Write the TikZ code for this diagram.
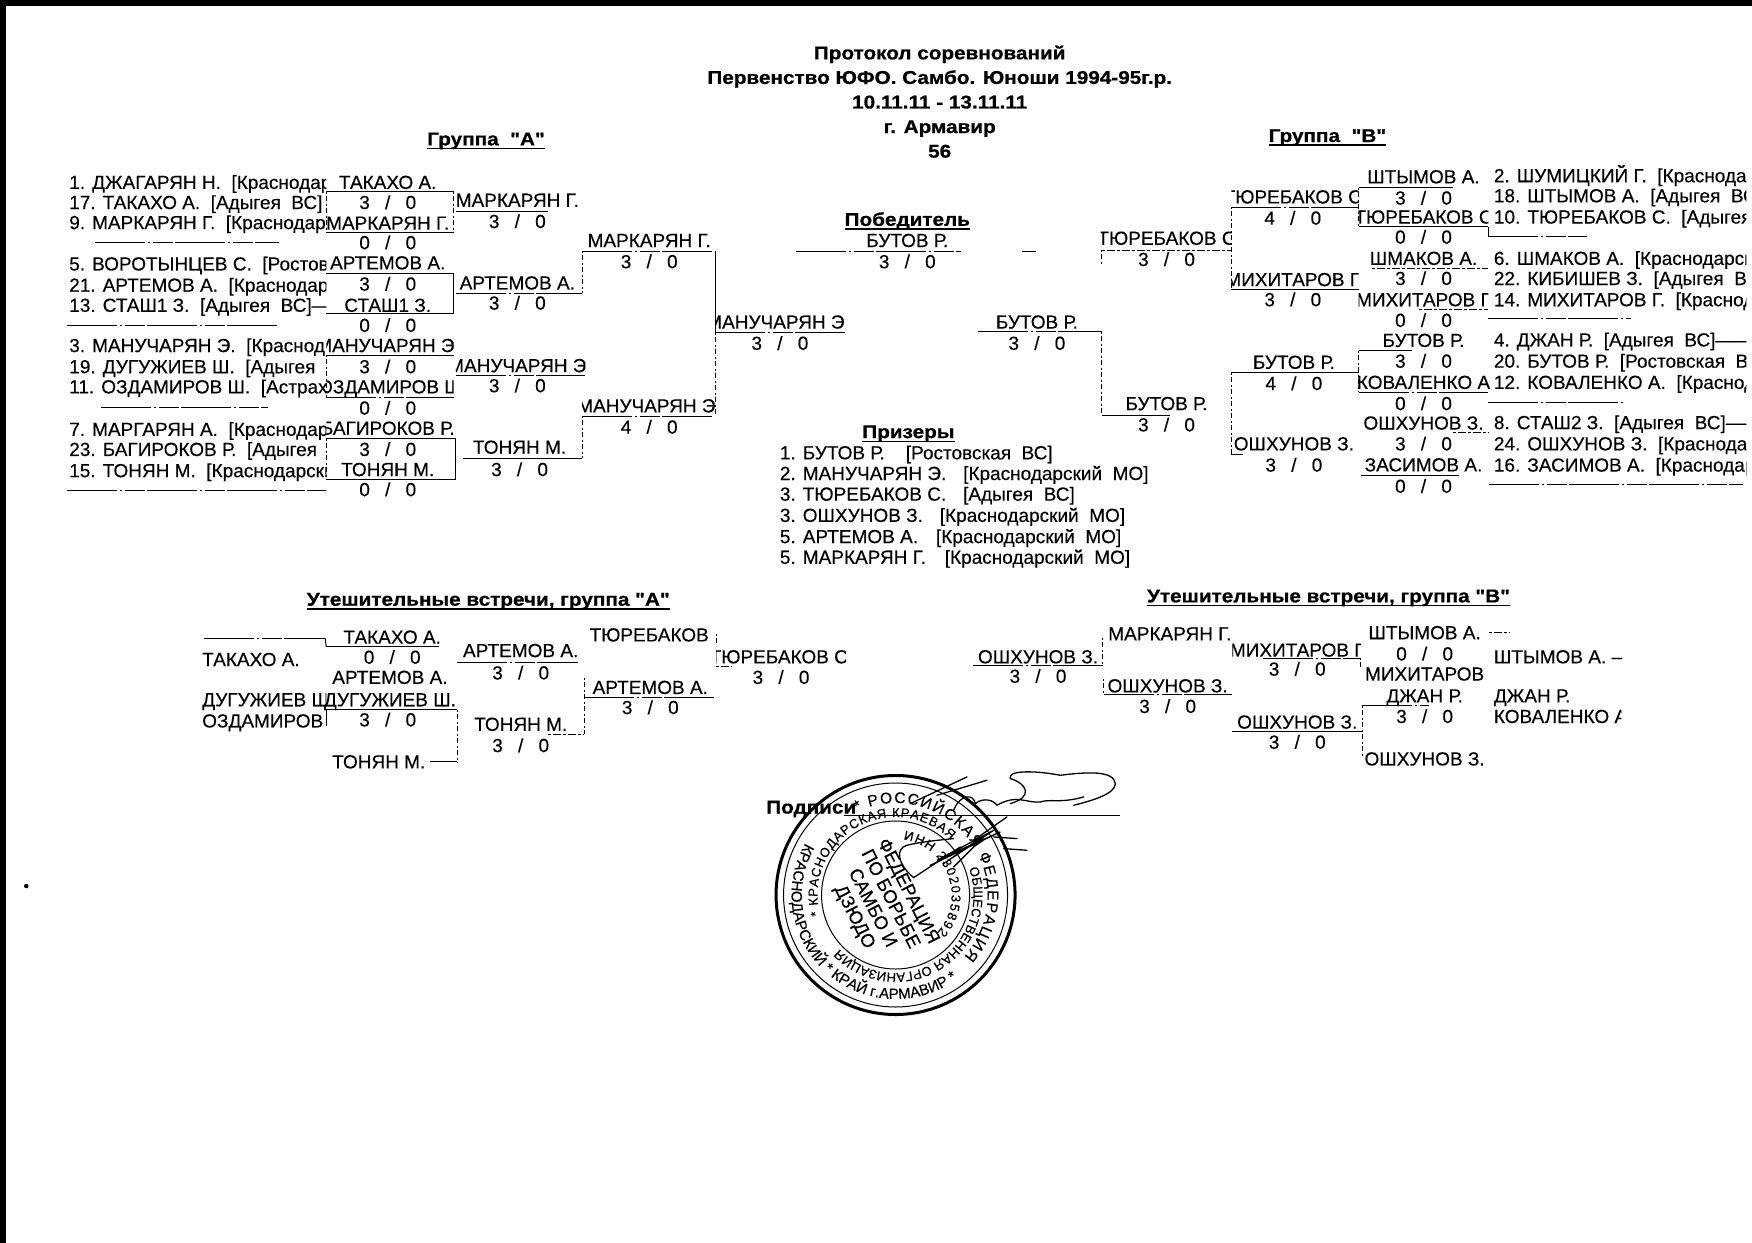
\documentclass[tikz,border=0pt]{standalone}
\usepackage{fontspec}
\usepackage{graphicx}
\setmainfont{Liberation Sans}[UprightFeatures={FakeBold=0.25},BoldFeatures={FakeBold=0.7}]
\newfontfamily\plainq{Liberation Sans}[BoldFeatures={FakeBold=0.7}]
\newcommand\Qt{{\plainq"}}
\usetikzlibrary{decorations.text}
\tikzset{
 nm/.style={inner sep=0pt,outer sep=0pt,text height=13.6pt,text depth=0pt,font=\fontsize{19}{19}\selectfont},
 ttl/.style={inner sep=0pt,outer sep=0pt,text height=13.6pt,text depth=0pt,font=\fontsize{18.5}{18.5}\selectfont\bfseries},
 rl/.style={line width=1pt},
 rb/.style={line width=1pt,dash pattern=on 50pt off 3pt on 2pt off 3pt on 20pt off 2pt},
 rd/.style={line width=1pt,dash pattern=on 3pt off 2pt on 8pt off 2pt},
 vs/.style={line width=1pt},
 vd/.style={line width=1pt,dash pattern=on 2pt off 2pt on 5pt off 3pt},
 ul/.style={line width=1.6pt},
 ringtxt/.style={decorate,decoration={text along path,text align=fit to path,text={#1}}},
 stt/.style={nm,rotate=-63,font=\fontsize{18.5}{18.5}\selectfont},
}
\newcommand\Nm[4]{\node[nm] (#1) at (#2,#3) {#4};}
\newcommand\Ln[4]{\node[nm,anchor=west] (#1) at (#2,#3) {#4};}
\newcommand\Cn[6]{\begin{scope}\clip (#5,#3-9) rectangle (#6,#3+9);\node[nm] (#1) at (#2,#3) {#4};\end{scope}}
\newcommand\Cl[5]{\begin{scope}\clip (#2,#3-10) rectangle (#5,#3+10);\node[nm,anchor=west] (#1) at (#2,#3) {#4};\end{scope}}
\newcommand\Sr[5]{\node[nm] (#1) at (#2,#3) {#4\hspace{.8em}/\hspace{.8em}#5};}
\newcommand\Ru[5][rl]{\coordinate (#2-l) at (#3,#5);\coordinate (#2-r) at (#4,#5);\draw[#1] (#2-l) -- (#2-r);}
\newcommand\Wd[1]{\scalebox{1.12}[1]{#1}}
\newcommand\Ti[3]{\node[ttl] (#1) at (#2) {\Wd{#3}};\draw[ul] ([yshift=-3.2pt]#1.base west) -- ([yshift=-3.2pt]#1.base east);}
\begin{document}
\begin{tikzpicture}[x=1.1173pt,y=-1.1173pt]
\useasboundingbox (0,0) rectangle (1568,1112);
\fill[white] (0,0) rectangle (1568,1112);
\fill[black] (0,0) rectangle (1568,5.4);
\fill[black] (0,0) rectangle (5,1112);
\fill[black] (23.5,793) circle[radius=2];
% header
\node[ttl] (t1) at (841,47) {\Wd{Протокол соревнований}};
\node[ttl] (t2) at (841,69) {\Wd{Первенство ЮФО. Самбо. Юноши 1994-95г.р.}};
\node[ttl] (t3) at (841,91) {\Wd{10.11.11 - 13.11.11}};
\node[ttl] (t4) at (841,113) {\Wd{г. Армавир}};
\node[ttl] (t5) at (841,135) {\Wd{56}};
\Ti{ga}{435,124}{Группа~~\Qt А\Qt}
\Ti{gb}{1188,121}{Группа~~\Qt В\Qt}
\Ti{win}{812,196}{Победитель}
\Ti{pri}{813,386}{Призеры}
\Ti{ca}{437,536}{Утешительные встречи, группа \Qt А\Qt}
\Ti{cb}{1189,533}{Утешительные встречи, группа \Qt В\Qt}
% left list
\Cl{l1}{62}{163}{1. ДЖАГАРЯН Н.~~[Краснодар}{292}
\Cl{l2}{62}{181}{17. ТАКАХО А.~~[Адыгея~~ВС]}{292}
\Cl{l3}{62}{199}{9. МАРКАРЯН Г.~~[Краснодар}{292}
\Cl{l4}{62}{236}{5. ВОРОТЫНЦЕВ С.~~[Ростов}{292}
\Cl{l5}{62}{255}{21. АРТЕМОВ А.~~[Краснодар}{292}
\Cl{l6}{62}{273}{13. СТАШ1 З.~~[Адыгея~~ВС]---}{292}
\Cl{l7}{62}{309}{3. МАНУЧАРЯН Э.~~[Краснод}{292}
\Cl{l8}{62}{328}{19. ДУГУЖИЕВ Ш.~~[Адыгея}{292}
\Cl{l9}{62}{346}{11. ОЗДАМИРОВ Ш.~~[Астрах}{292}
\Cl{l10}{62}{384}{7. МАРГАРЯН А.~~[Краснодар}{292}
\Cl{l11}{62}{402}{23. БАГИРОКОВ Р.~~[Адыгея}{292}
\Cl{l12}{62}{421}{15. ТОНЯН М.~~[Краснодарски}{292}
\Ru[rb]{sl1}{85}{250}{217}
\Ru[rb]{sl2}{60}{250}{291}
\Ru[rb]{sl3}{90}{240}{365}
\Ru[rb]{sl4}{60}{292}{439}
% col 1 A
\Nm{a1}{347}{163}{ТАКАХО А.}\Ru{a1}{292}{406}{171.6}\Sr{a1s}{347}{181}{3}{0}
\Nm{a2}{347}{199.4}{МАРКАРЯН Г.}\Ru{a2}{292}{406}{208}\Sr{a2s}{347}{217}{0}{0}
\Nm{a3}{347}{235}{АРТЕМОВ А.}\Ru{a3}{292}{406}{245}\Sr{a3s}{347}{254}{3}{0}
\Nm{a4}{347}{273}{СТАШ1 З.}\Ru{a4}{292}{406}{281}\Sr{a4s}{347}{291}{0}{0}
\Cn{a5}{345}{309}{МАНУЧАРЯН Э}{292}{406}\Ru{a5}{292}{406}{318}\Sr{a5s}{347}{328}{3}{0}
\Cn{a6}{349}{346}{ОЗДАМИРОВ Ш}{292}{406}\Ru[rb]{a6}{292}{406}{356}\Sr{a6s}{347}{365}{0}{0}
\Cn{a7}{347}{383}{БАГИРОКОВ Р.}{292}{408}\Ru{a7}{292}{408}{392.5}\Sr{a7s}{347}{402}{3}{0}
\Nm{a8}{347}{420}{ТОНЯН М.}\Ru{a8}{292}{408}{429}\Sr{a8s}{347}{438}{0}{0}
\draw[vd] (a1-l) -- (a2-l); \draw[vd] (a5-l) -- (a6-l); \draw[vd] (a7-l) -- (a8-l);
\draw[vd] (a1-r) -- (a2-r); \draw[vs] (a3-r) -- (a4-r); \draw[vs] (a7-r) -- (a8-r);
% col 2 A
\Nm{b1}{463}{179}{МАРКАРЯН Г.}\Ru{b1}{408}{490}{189.5}\Sr{b1s}{463}{198}{3}{0}
\Nm{b2}{463}{253}{АРТЕМОВ А.}\Ru[rb]{b2}{408}{521}{262.6}\Sr{b2s}{463}{271}{3}{0}
\Cn{b3}{463}{327}{МАНУЧАРЯН Э}{408}{524}\Ru[rb]{b3}{408}{524}{336}\Sr{b3s}{463}{345}{3}{0}
\Nm{b4}{465}{400}{ТОНЯН М.}\Ru{b4}{414}{521}{410}\Sr{b4s}{465}{420}{3}{0}
% col 3 A
\Nm{c1}{581}{215}{МАРКАРЯН Г.}\Ru[rb]{c1}{521}{640}{225}\Sr{c1s}{581}{234}{3}{0}
\Cn{c2}{578.5}{363}{МАНУЧАРЯН Э}{521}{640}\Ru[rb]{c2}{521}{640}{372.5}\Sr{c2s}{581}{382}{4}{0}
\draw[vd] (c1-l) -- (b2-r); \draw[vd] (c2-l) -- (b4-r);
\Cn{d1}{694}{288}{МАНУЧАРЯН Э}{640}{756}\Ru[rb]{d1}{640}{756}{298}\Sr{d1s}{698}{307}{3}{0}
\draw[vs] (c1-r) -- (d1-l); \draw[vd] (d1-l) -- (c2-r);
% winner
\Nm{w}{812}{215}{БУТОВ Р.}\Ru[rb]{w}{712}{860}{225}\Sr{ws}{812}{234}{3}{0}
\Ru{wx}{915}{927}{225}
% prize list
\Ln{p1}{698}{405}{1. БУТОВ Р.~~~~[Ростовская~~ВС]}
\Ln{p2}{698}{423.5}{2. МАНУЧАРЯН Э.~~~\hspace{1pt}[Краснодарский~~МО]}
\Ln{p3}{698}{442}{3. ТЮРЕБАКОВ С.~~~\hspace{1pt}[Адыгея~~ВС]}
\Ln{p4}{698}{461}{3. ОШХУНОВ З.~~~\hspace{1pt}[Краснодарский~~МО]}
\Ln{p5}{698}{480}{5. АРТЕМОВ А.~~~\hspace{2pt}[Краснодарский~~МО]}
\Ln{p6}{698}{498.5}{5. МАРКАРЯН Г.~~~\hspace{3pt}[Краснодарский~~МО]}
% right bracket
\Nm{e1}{928}{288}{БУТОВ Р.}\Ru[rb]{e1}{875}{986}{297}\Sr{e1s}{928}{307}{3}{0}
\Cn{f1}{1044}{213}{ТЮРЕБАКОВ С}{985}{1102}\Ru[rd]{f1}{986}{1102}{224}\Sr{f1s}{1044}{232}{3}{0}
\Nm{f2}{1044}{361}{БУТОВ Р.}\Ru{f2}{986}{1047}{372}\Sr{f2s}{1044}{380}{3}{0}
\draw[vd] (e1-r) -- (f2-l); \draw[vd] (f1-l) -- ++(0,12);
\Cn{g1}{1157}{176}{ТЮРЕБАКОВ С}{1102}{1216}\Ru[rb]{g1}{1102}{1216}{185.6}\Sr{g1s}{1157}{195}{4}{0}
\Cn{g2}{1157}{250}{МИХИТАРОВ Г}{1102}{1216}\Ru{g2}{1102}{1216}{259}\Sr{g2s}{1157}{268}{3}{0}
\Nm{g3}{1158}{324}{БУТОВ Р.}\Ru{g3}{1102}{1216}{333.4}\Sr{g3s}{1158}{343}{4}{0}
\Nm{g4}{1158}{397}{ОШХУНОВ З.}\Ru{g4}{1102}{1112}{407}\Sr{g4s}{1158}{416}{3}{0}
\draw[vd] (g1-l) -- (g2-l); \draw[vd] (g3-l) -- (g4-l);
\Nm{h1}{1274}{158}{ШТЫМОВ А.}\Ru{h1}{1216}{1300}{168}\Sr{h1s}{1274}{177}{3}{0}
\Cn{h2}{1274}{194}{ТЮРЕБАКОВ С}{1216}{1332}\Ru{h2}{1216}{1332}{203}\Sr{h2s}{1274}{212}{0}{0}
\Nm{h3}{1274}{231}{ШМАКОВ А.}\Ru[rd]{h3}{1228}{1332}{240}\Sr{h3s}{1274}{249}{3}{0}
\Cn{h4}{1274}{268}{МИХИТАРОВ Г}{1216}{1332}\Ru[rd]{h4}{1270}{1332}{277}\Sr{h4s}{1274}{286.5}{0}{0}
\Nm{h5}{1274}{304.4}{БУТОВ Р.}\Ru{h5}{1216}{1264}{314}\Sr{h5s}{1274}{323}{3}{0}
\Nm{h6}{1274}{342}{КОВАЛЕНКО А}\Ru[rb]{h6}{1216}{1332}{351}\Sr{h6s}{1274}{361}{0}{0}
\Nm{h7}{1274}{378.4}{ОШХУНОВ З.}\Ru[rd]{h7}{1300}{1332}{387.4}\Sr{h7s}{1274}{397}{3}{0}
\Nm{h8}{1274}{415.8}{ЗАСИМОВ А.}\Ru{h8}{1218}{1306}{425.6}\Sr{h8s}{1274}{435}{0}{0}
\draw[vd] (h1-l) -- (h2-l); \draw[vd] (h5-l) -- (h6-l); \draw[vs] (h2-r) -- ++(0,9);
% right list
\Cl{r1}{1337}{157}{2. ШУМИЦКИЙ Г.~~[Краснода}{1563}
\Cl{r2}{1337}{175}{18. ШТЫМОВ А.~~[Адыгея~~ВС}{1563}
\Cl{r3}{1337}{194}{10. ТЮРЕБАКОВ С.~~[Адыгея}{1563}
\Cl{r4}{1337}{231}{6. ШМАКОВ А.~~[Краснодарск}{1563}
\Cl{r5}{1337}{249}{22. КИБИШЕВ З.~~[Адыгея~~ВС}{1563}
\Cl{r6}{1337}{268}{14. МИХИТАРОВ Г.~~[Краснод}{1563}
\Cl{r7}{1337}{304}{4. ДЖАН Р.~~[Адыгея~~ВС]------}{1563}
\Cl{r8}{1337}{323}{20. БУТОВ Р.~~[Ростовская~~В}{1563}
\Cl{r9}{1337}{342}{12. КОВАЛЕНКО А.~~[Краснод}{1563}
\Cl{r10}{1337}{378}{8. СТАШ2 З.~~[Адыгея~~ВС]------}{1563}
\Cl{r11}{1337}{397}{24. ОШХУНОВ З.~~[Краснодар}{1563}
\Cl{r12}{1337}{416}{16. ЗАСИМОВ А.~~[Краснодар}{1563}
\Ru[rb]{sr1}{1332}{1420}{212}
\Ru[rb]{sr2}{1332}{1460}{285}
\Ru[rb]{sr3}{1332}{1455}{360}
\Ru[rb]{sr4}{1333}{1560}{434}
% consolation A
\Ru[rb]{ca0}{183}{291}{571}
\Nm{k1}{351}{570}{ТАКАХО А.}\Ru{k1}{292}{393}{579}\Sr{k1s}{351}{588}{0}{0}
\draw[vs] (ca0-r) -- (k1-l);
\Ln{k2}{181}{590}{ТАКАХО А.}
\Nm{k3}{349}{606}{АРТЕМОВ А.}
\Cl{k4}{181}{626}{ДУГУЖИЕВ Ш}{292}
\Nm{k5}{349}{626}{ДУГУЖИЕВ Ш.}\Ru{k5}{292}{409}{635}\Sr{k5s}{347}{644}{3}{0}
\Ln{k6}{181}{645}{ОЗДАМИРОВ}
\Nm{k7}{339}{681.6}{ТОНЯН М.}\Ru{k7}{385}{409}{681.6}
\draw[vd] (k5-r) -- (k7-r); \draw[vs] (k5-l) -- ++(0,15);
\Nm{q1}{466}{582}{АРТЕМОВ А.}\Ru[rb]{q1}{409}{517}{592.7}\Sr{q1s}{466}{602}{3}{0}
\Nm{q2}{466}{648}{ТОНЯН М.}\Ru[rd]{q2}{490}{523}{657}\Sr{q2s}{466}{667}{3}{0}
\Nm{s1}{581}{568}{ТЮРЕБАКОВ}
\Nm{s2}{582}{615}{АРТЕМОВ А.}\Ru[rb]{s2}{523}{641}{624}\Sr{s2s}{582}{633}{3}{0}
\draw[vd] (s2-l) ++(0,-17) -- (q2-r);
\Cn{s3}{697}{587.6}{ТЮРЕБАКОВ С}{641}{757}\Ru[rd]{s3}{641}{655}{596.6}\Sr{s3s}{699}{606}{3}{0}
\draw[vd] (s3-l) ++(0,-29) -- ++(0,8);
% consolation B
\Nm{u}{929}{587.6}{ОШХУНОВ З.}\Ru[rb]{u}{871}{987}{595.7}\Sr{us}{929}{605}{3}{0}
\Nm{v1}{1047}{567}{МАРКАРЯН Г.}
\Nm{v2}{1045}{613.6}{ОШХУНОВ З.}\Ru[rb]{v2}{988}{1103}{622}\Sr{v2s}{1045}{632}{3}{0}
\draw[vd] (u-r) ++(0,-25) -- (u-r); \draw[vd] (v2-l) ++(0,-14) -- (v2-l);
\Cn{w1}{1161}{581.6}{МИХИТАРОВ Г}{1103}{1218}\Ru[rb]{w1}{1130}{1218}{589}\Sr{w1s}{1161}{598.6}{3}{0}
\Nm{w2}{1161}{646}{ОШХУНОВ З.}\Ru{w2}{1103}{1219}{655}\Sr{w2s}{1161}{664}{3}{0}
\Nm{x1}{1275}{566}{ШТЫМОВ А.}\Sr{x1s}{1275}{585}{0}{0}
\Nm{x2}{1275}{603}{МИХИТАРОВ}
\Nm{x3}{1275}{622.5}{ДЖАН Р.}\Ru[rb]{x3}{1219}{1279}{631.5}\Sr{x3s}{1275}{641}{3}{0}
\Nm{x4}{1275}{679}{ОШХУНОВ З.}
\draw[vd] (x3-l) -- ++(0,46); \draw[vd] (w1-r) -- ++(0,8);
\Ln{y1}{1337}{587.6}{ШТЫМОВ А. –}
\Ln{y2}{1337}{622.5}{ДЖАН Р.}
\Cl{y3}{1337}{641}{КОВАЛЕНКО А}{1451}
\Ru[rd]{y0}{1333}{1351}{566}
% signature label and line
\node[ttl] (sg) at (726,722) {\Wd{Подписи}};
\coordinate (sa) at (755,730); \coordinate (sb) at (1002,730);
\draw[line width=1.2pt] (sa) -- (sb);
% stamp
\coordinate (sc) at (801.5,801);
\draw[line width=3pt] (sc) circle[radius=119.5pt];
\draw[line width=1pt] (sc) circle[radius=112pt];
\draw[line width=1pt] (sc) circle[radius=74pt];
\path[ringtxt={|\fontsize{15.5pt}{15.5pt}\selectfont|* РОССИЙСКАЯ ФЕДЕРАЦИЯ}] (sc) ++(115:92pt) arc[start angle=115,end angle=-42,radius=92pt];
\path[ringtxt={|\fontsize{15pt}{15pt}\selectfont|КРАСНОДАРСКИЙ * КРАЙ г.АРМАВИР *}] (sc) ++(150:104pt) arc[start angle=150,end angle=305,radius=104pt];
\path[ringtxt={|\fontsize{13pt}{13pt}\selectfont|* КРАСНОДАРСКАЯ КРАЕВАЯ}] (sc) ++(195:78pt) arc[start angle=195,end angle=45,radius=78pt];
\path[ringtxt={|\fontsize{13pt}{13pt}\selectfont|ОБЩЕСТВЕННАЯ ОРГАНИЗАЦИЯ *}] (sc) ++(20:78pt) arc[start angle=20,end angle=-135,radius=78pt];
\path[ringtxt={|\fontsize{13pt}{13pt}\selectfont|ИНН 2302035892}] (sc) ++(82:56pt) arc[start angle=82,end angle=-42,radius=56pt];
\node[stt] (st1) at (814,797) {ФЕДЕРАЦИЯ};
\node[stt] (st2) at (798,804) {ПО БОРЬБЕ};
\node[stt] (st3) at (782,812) {САМБО И};
\node[stt] (st4) at (766,820) {ДЗЮДО};
% signature strokes
\begin{scope}[shift={(662.5,680.4)},x=0.3334pt,y=-0.3334pt,line width=1.3pt,line cap=round]
\draw (510,130) -- (680,50);
\draw (590,105) -- (740,60);
\draw (640,150) .. controls (660,100) and (700,100) .. (705,130) .. controls (730,110) and (760,120) .. (770,135) .. controls (830,100) and (860,130) .. (900,125) .. controls (930,115) and (960,130) .. (1030,110);
\draw (810,130) .. controls (880,110) and (860,70) .. (810,55) .. controls (800,30) and (880,30) .. (960,45) .. controls (1040,35) and (1120,30) .. (1125,70) .. controls (1125,100) and (1060,120) .. (1000,135);
\draw (520,352) .. controls (470,310) and (465,265) .. (500,255) .. controls (540,245) and (590,240) .. (640,235);
\draw (520,352) -- (660,260);
\draw (570,315) -- (780,215) -- (590,300) -- (760,210) -- (610,310) -- (740,220) -- (640,320);
\draw (700,240) -- (800,170);
\draw (760,230) -- (830,235);
\draw (790,265) -- (860,270);
\end{scope}
\end{tikzpicture}
\end{document}
